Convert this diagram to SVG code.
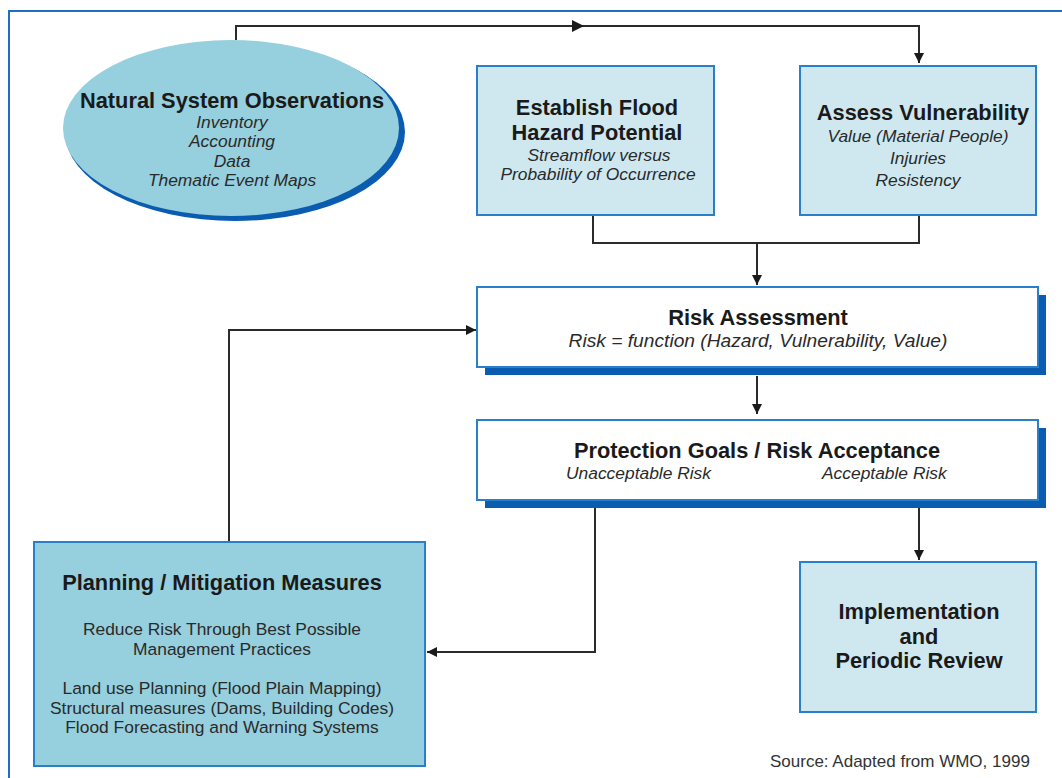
<svg xmlns="http://www.w3.org/2000/svg" width="1062" height="778" viewBox="0 0 1062 778">
<defs>
<style>
.frame{fill:none;stroke:#1f6fbf;stroke-width:2}
.lt{fill:#cfe8f0;stroke:#2a7fcb;stroke-width:2}
.dk{fill:#96cfdd;stroke:#2a7fcb;stroke-width:2}
.wh{fill:#ffffff;stroke:#2a7fcb;stroke-width:2}
.sh{fill:#0a5cb0}
.con{fill:none;stroke:#2b2b2b;stroke-width:2}
text{font-family:"Liberation Sans",Arial,sans-serif;fill:#1a1a1a;text-anchor:middle}
.b{font-weight:bold;font-size:21.8px}
.i{font-style:italic;font-size:17.4px;fill:#2a2a2a}
.n{font-size:17.4px;fill:#2a2a2a}
</style>
<marker id="ah" viewBox="0 0 10 10" refX="10" refY="5" markerWidth="10" markerHeight="10" markerUnits="userSpaceOnUse" orient="auto">
<path d="M0,0 L10,5 L0,10 z" fill="#1a1a1a"/>
</marker>
<marker id="am" viewBox="0 0 12 12" refX="6" refY="6" markerWidth="12" markerHeight="12" markerUnits="userSpaceOnUse" orient="auto">
<path d="M0,0 L12,6 L0,12 z" fill="#1a1a1a"/>
</marker>
</defs>
<rect width="1062" height="778" fill="#ffffff"/>
<rect class="frame" x="9" y="11" width="1080" height="790"/>

<g id="connectors">
<path class="con" d="M236,40 V26 H919 V63" marker-end="url(#ah)"/>
<path class="con" d="M236,26 H578" marker-end="url(#am)"/>
<path class="con" d="M593,215 V243 H919 V215"/>
<path class="con" d="M757,243 V285" marker-end="url(#ah)"/>
<path class="con" d="M757,376 V414" marker-end="url(#ah)"/>
<path class="con" d="M595,508 V652 H427" marker-end="url(#ah)"/>
<path class="con" d="M919,508 V560" marker-end="url(#ah)"/>
<path class="con" d="M229,570 V330 H476" marker-end="url(#ah)"/>
</g>

<g id="natural-system-observations">
<ellipse class="sh" cx="235" cy="132" rx="170" ry="89"/>
<ellipse cx="231" cy="128" rx="168" ry="88" fill="#96cfdd"/>
<text class="b" x="232" y="108">Natural System Observations</text>
<text class="i" x="232" y="128">Inventory</text>
<text class="i" x="232" y="147">Accounting</text>
<text class="i" x="232" y="167">Data</text>
<text class="i" x="232" y="186">Thematic Event Maps</text>
</g>

<g id="establish-flood-hazard">
<rect class="lt" x="477" y="66" width="237" height="149"/>
<text class="b" x="597" y="115">Establish Flood</text>
<text class="b" x="597" y="140">Hazard Potential</text>
<text class="i" x="599" y="161">Streamflow versus</text>
<text class="i" x="598" y="180">Probability of Occurrence</text>
</g>

<g id="assess-vulnerability">
<rect class="lt" x="800" y="66" width="236" height="149"/>
<text class="b" x="923" y="120">Assess Vulnerability</text>
<text class="i" x="918" y="142">Value (Material People)</text>
<text class="i" x="918" y="164">Injuries</text>
<text class="i" x="918" y="186">Resistency</text>
</g>

<g id="risk-assessment">
<rect class="sh" x="485" y="295" width="561" height="80"/>
<rect class="wh" x="477" y="287" width="561" height="80"/>
<text class="b" x="758" y="325">Risk Assessment</text>
<text class="i" x="758" y="347" style="font-size:19.2px">Risk = function (Hazard, Vulnerability, Value)</text>
</g>

<g id="protection-goals">
<rect class="sh" x="485" y="428" width="561" height="80"/>
<rect class="wh" x="477" y="420" width="561" height="80"/>
<text class="b" x="757" y="458">Protection Goals / Risk Acceptance</text>
<text class="i" x="566" y="479" style="text-anchor:start">Unacceptable Risk</text>
<text class="i" x="822" y="479" style="text-anchor:start">Acceptable Risk</text>
</g>

<g id="planning-mitigation">
<rect class="dk" x="34" y="542" width="391" height="224"/>
<text class="b" x="222" y="590">Planning / Mitigation Measures</text>
<text class="n" x="222" y="635">Reduce Risk Through Best Possible</text>
<text class="n" x="222" y="655">Management Practices</text>
<text class="n" x="222" y="694">Land use Planning (Flood Plain Mapping)</text>
<text class="n" x="222" y="714">Structural measures (Dams, Building Codes)</text>
<text class="n" x="222" y="733">Flood Forecasting and Warning Systems</text>
</g>

<g id="implementation">
<rect class="lt" x="800" y="562" width="236" height="150"/>
<text class="b" x="919" y="619">Implementation</text>
<text class="b" x="919" y="644">and</text>
<text class="b" x="919" y="668">Periodic Review</text>
</g>

<text class="n" x="770" y="767" style="text-anchor:start;fill:#333;font-size:17px">Source: Adapted from WMO, 1999</text>
</svg>
